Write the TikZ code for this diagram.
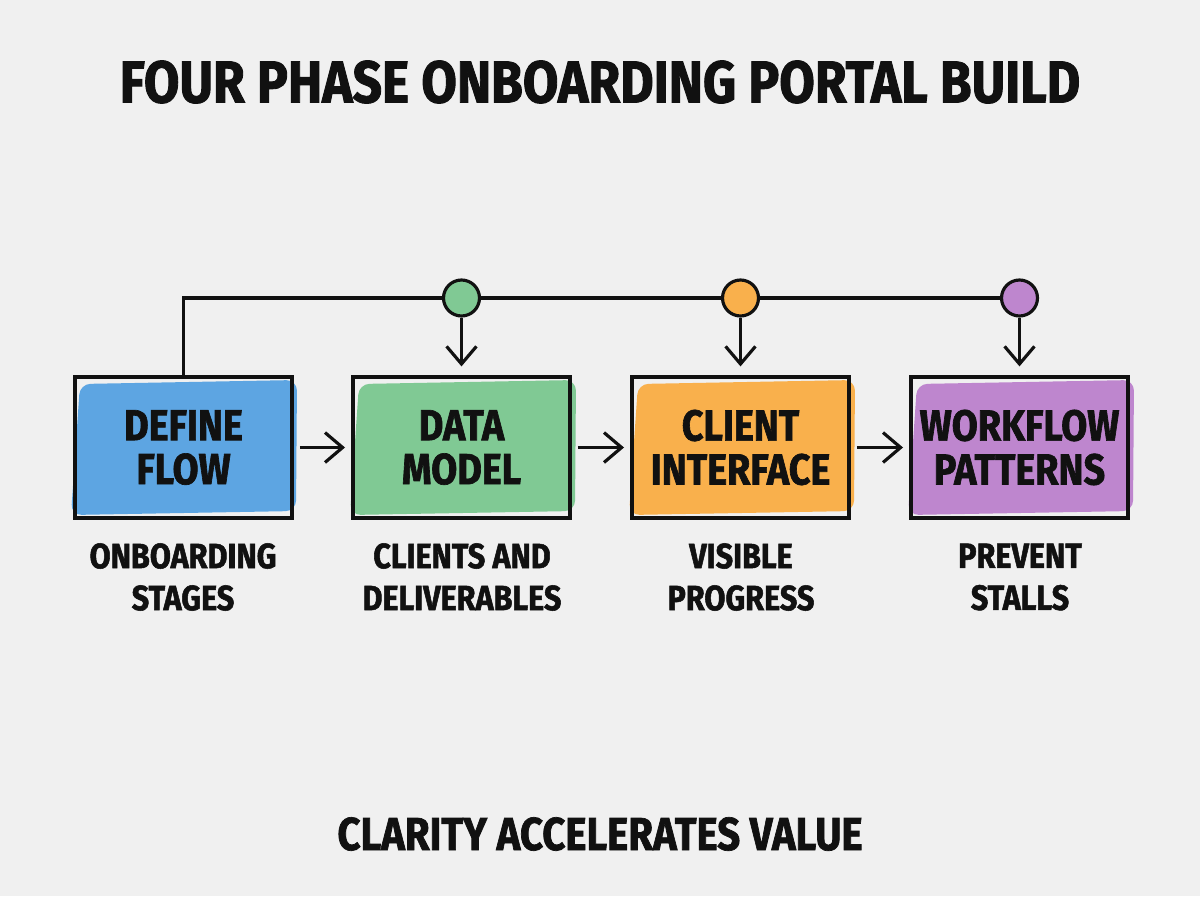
\documentclass[tikz,border=0pt]{standalone}
\usepackage{fontspec}
\newfontfamily\hand[FakeStretch=0.87, BoldFeatures={FakeBold=1.5}]{Fira Sans}
\usetikzlibrary{arrows.meta}
\definecolor{bg}{HTML}{F0F0F0}
\definecolor{ink}{HTML}{111111}
\definecolor{blueF}{HTML}{5DA5E2}
\definecolor{greenF}{HTML}{80C994}
\definecolor{orangeF}{HTML}{F9B04C}
\definecolor{purpleF}{HTML}{BE86CE}
\tikzset{
  phase/.style={draw=ink, line width=2.1pt, minimum width=4.34cm, minimum height=2.82cm, inner sep=0pt, align=center, text=ink,
    font={\hand\bfseries\fontsize{24.7}{25}\selectfont}},
  lab/.style={align=center, text=ink, inner sep=0pt, font={\hand\bfseries\fontsize{20}{23.9}\selectfont}},
  dot/.style={circle, draw=ink, line width=1.8pt, minimum size=0.72cm, inner sep=0pt},
  conn/.style={draw=ink, line width=1.8pt},
  arr/.style={conn, -{Straight Barb[length=10pt,width=17pt,line width=1.8pt]}},
}
\begin{document}
\begin{tikzpicture}[x=0.02cm,y=-0.02cm]
\fill[bg] (0,0) rectangle (1200,896);
\useasboundingbox (0,0) rectangle (1200,896);
% colour washes
\foreach \cx/\col in {183/blueF,462/greenF,741/orangeF,1020/purpleF}{
  \fill[\col, rounded corners=6pt] (\cx-103,384) -- (\cx+114,380) -- (\cx+113,511) -- (\cx-112,515) -- cycle;
}
\node[phase] (b1) at (183.5,447.5) {DEFINE\\FLOW};
\node[phase] (b2) at (461.5,447.5) {DATA\\MODEL};
\node[phase] (b3) at (740.5,447.5) {CLIENT\\INTERFACE};
\node[phase] (b4) at (1019.5,447.5) {WORKFLOW\\PATTERNS};
\node[dot, fill=greenF] (c2) at (461.5,298) {};
\node[dot, fill=orangeF] (c3) at (740.5,298) {};
\node[dot, fill=purpleF] (c4) at (1019.5,298) {};
\draw[conn] (b1.north) |- (c2.west);
\draw[conn] (c2.east) -- (c3.west);
\draw[conn] (c3.east) -- (c4.west);
\foreach \i in {2,3,4}{
  \draw[arr, shorten >=5pt] (c\i.south) -- (b\i.north);
}
\draw[arr, shorten <=3.5pt, shorten >=3.5pt] (b1.east) -- (b2.west);
\draw[arr, shorten <=3.5pt, shorten >=3.5pt] (b2.east) -- (b3.west);
\draw[arr, shorten <=3.5pt, shorten >=3.5pt] (b3.east) -- (b4.west);
\node[lab] (l1) at (183,577) {ONBOARDING\\STAGES};
\node[lab] (l2) at (462,577) {CLIENTS AND\\DELIVERABLES};
\node[lab] (l3) at (741,577) {VISIBLE\\PROGRESS};
\node[lab] (l4) at (1020,577) {PREVENT\\STALLS};
\node[text=ink, inner sep=0pt, font={\hand\bfseries\fontsize{33.7}{36}\selectfont}] (title) at (600,82) {FOUR PHASE ONBOARDING PORTAL BUILD};
\node[text=ink, inner sep=0pt, font={\hand\bfseries\fontsize{26.3}{28}\selectfont}] (foot) at (600,834) {CLARITY ACCELERATES VALUE};
\end{tikzpicture}
\end{document}
